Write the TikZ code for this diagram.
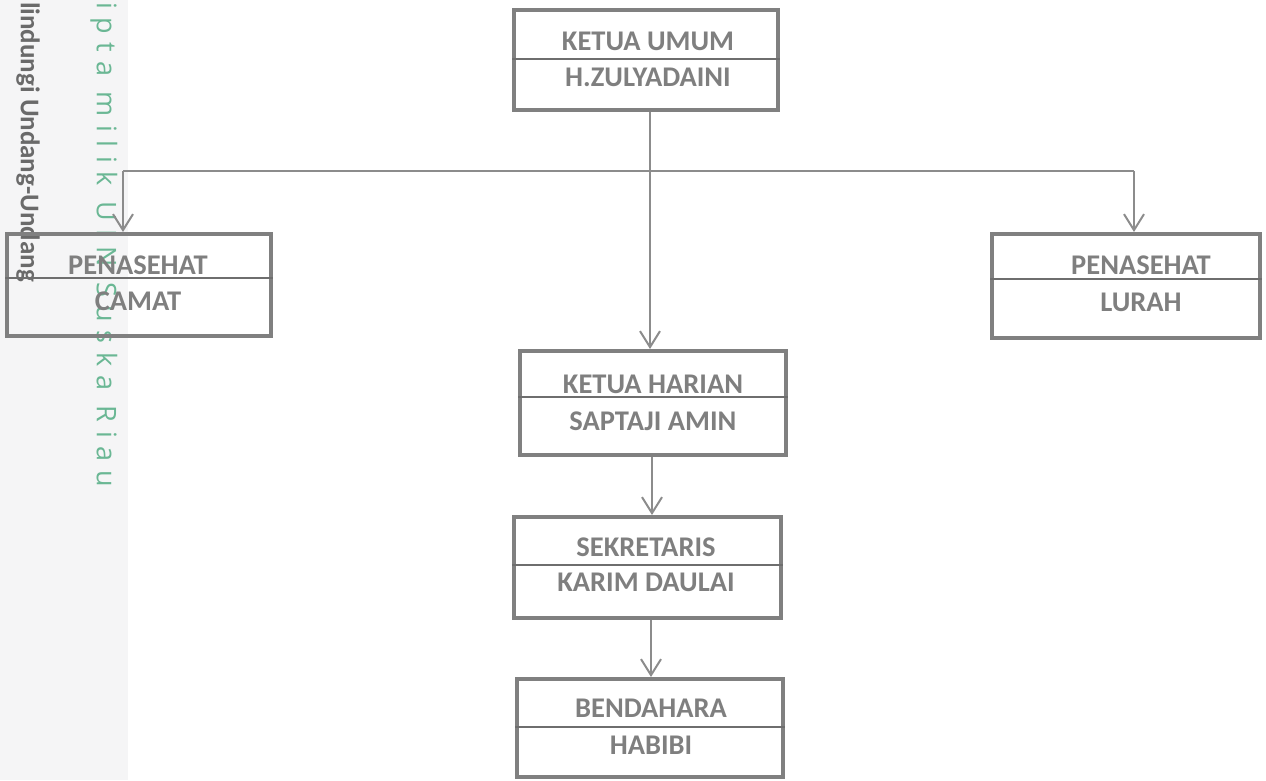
\documentclass[tikz,border=0pt]{standalone}
\usepackage{fontspec}
\setmainfont{Carlito}
\newfontfamily\wmfont[LetterSpace=32]{Open Sans}
\usetikzlibrary{arrows.meta}
\definecolor{boxgray}{HTML}{808080}
\definecolor{divgray}{HTML}{6E6E6E}
\definecolor{linegray}{HTML}{8C8C8C}
\definecolor{txtgray}{HTML}{7F7F7F}
\definecolor{wmgreen}{HTML}{6AB794}
\definecolor{wmgray}{HTML}{6A6A6A}
\definecolor{wmbg}{HTML}{F5F5F6}
\begin{document}
\begin{tikzpicture}[x=1pt,y=-1pt,
  orgbox/.style={draw=boxgray,line width=4pt,inner sep=0pt},
  divider/.style={draw=divgray,line width=1.2pt},
  lbl/.style={text=txtgray,font=\fontsize{28.5}{31}\selectfont\bfseries,inner sep=0pt,anchor=center},
  conn/.style={draw=linegray,line width=2pt},
  arr/.style={conn,-{Straight Barb[length=16pt,width=20pt]}}]
\useasboundingbox (0,0) rectangle (1266,780);
% watermark strip
\fill[wmbg] (0,0) rectangle (128,780);
\node[rotate=-90,anchor=west,text=wmgreen,inner sep=0pt,font=\wmfont\fontsize{27}{29}\selectfont] (wm1) at (104,2) {ipta milik UIN Suska Riau};
\node[rotate=-90,anchor=west,text=wmgray,inner sep=0pt,font=\fontsize{27}{29}\selectfont\bfseries] (wm2) at (28,2) {lindungi Undang-Undang};
% boxes
\node[orgbox,minimum width=264pt,minimum height=100pt] (ku) at (646,60) {};
\draw[divider] ([yshift=1pt]ku.west) -- ([yshift=1pt]ku.east);
\node[lbl] (ku1) at (648,41) {KETUA UMUM};
\node[lbl] (ku2) at (648,77) {H.ZULYADAINI};

\node[orgbox,minimum width=264pt,minimum height=102pt] (camat) at (139,285) {};
\draw[divider] ([yshift=7pt]camat.west) -- ([yshift=7pt]camat.east);
\node[lbl] (camat1) at (138,265) {PENASEHAT};
\node[lbl] (camat2) at (138,301) {CAMAT};

\node[orgbox,minimum width=268pt,minimum height=104pt] (lurah) at (1126,286) {};
\draw[divider] ([yshift=7pt]lurah.west) -- ([yshift=7pt]lurah.east);
\node[lbl] (lurah1) at (1141,265) {PENASEHAT};
\node[lbl] (lurah2) at (1141,302) {LURAH};

\node[orgbox,minimum width=266pt,minimum height=104pt] (harian) at (653,403) {};
\draw[divider] ([yshift=6pt]harian.west) -- ([yshift=6pt]harian.east);
\node[lbl] (harian1) at (653,384) {KETUA HARIAN};
\node[lbl] (harian2) at (653,421) {SAPTAJI AMIN};

\node[orgbox,minimum width=267pt,minimum height=101pt] (sekr) at (647.5,567.5) {};
\draw[divider] ([yshift=2.5pt]sekr.west) -- ([yshift=2.5pt]sekr.east);
\node[lbl] (sekr1) at (646,547) {SEKRETARIS};
\node[lbl] (sekr2) at (646,582) {KARIM DAULAI};

\node[orgbox,minimum width=266pt,minimum height=98pt] (bend) at (650,728) {};
\draw[divider] ([yshift=1pt]bend.west) -- ([yshift=1pt]bend.east);
\node[lbl] (bend1) at (651,708) {BENDAHARA};
\node[lbl] (bend2) at (651,745) {HABIBI};

% connectors
\coordinate (jl) at (123,171);
\coordinate (jr) at (1134,171);
\draw[conn] (jl) -- (jr);
\draw[arr] (jl) -- (jl |- camat.north);
\draw[arr] (jr) -- (jr |- lurah.north);
\draw[arr] ([xshift=4pt]ku.south) -- ([xshift=4pt]ku.south |- harian.north);
\draw[arr] ([xshift=-1pt]harian.south) -- ([xshift=-1pt]harian.south |- sekr.north);
\draw[arr] ([xshift=3.5pt]sekr.south) -- ([xshift=3.5pt]sekr.south |- bend.north);
\end{tikzpicture}
\end{document}
